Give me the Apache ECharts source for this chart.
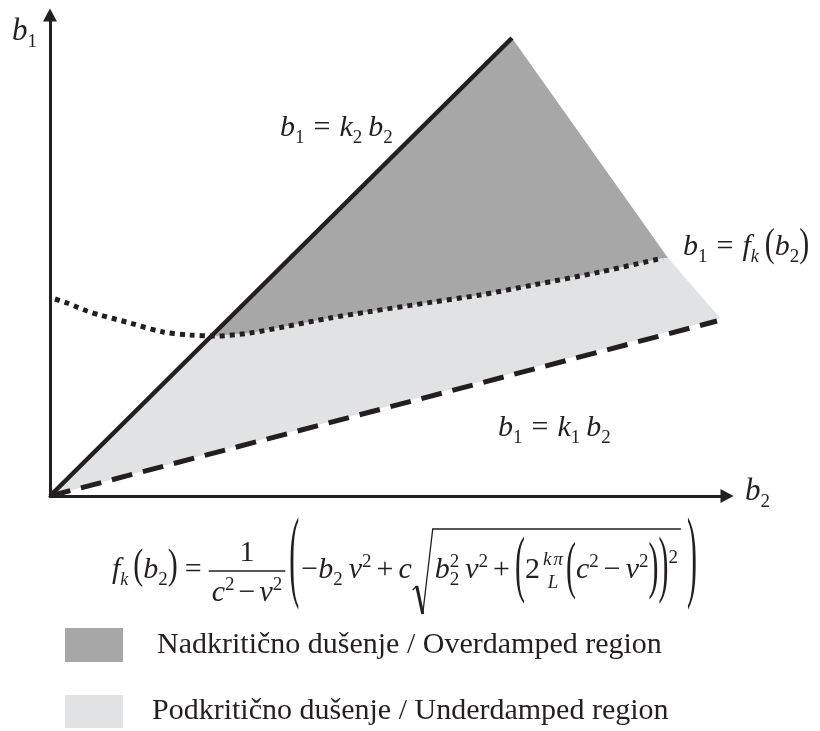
<!DOCTYPE html>
<html><head><meta charset="utf-8">
<script src="https://cdn.jsdelivr.net/npm/echarts@6/dist/echarts.min.js"></script>
<style>html,body{margin:0;padding:0;background:#fff}#c{width:820px;height:731px}</style>
</head><body><div id="c"></div>
<script>
// ---------------- data (b2 = horizontal, b1 = vertical) ----------------
const k2LineB2 = [0, 46.2];
const k2LineB1 = [0, 45.8];
const k1LineB2 = [0, 66.7];
const k1LineB1 = [0, 17.5];
const fkB2 = [0.5, 1.7, 2.7, 3.7, 5, 8, 11.3, 14, 16.5, 20, 23.3, 28, 31.7, 38.3, 43, 48.3, 55, 61.3];
const fkB1 = [19.7, 19.3, 18.9, 18.5, 18.1, 17.3, 16.4, 16.1, 16.0, 16.3, 16.9, 17.8, 18.4, 19.4, 20.1, 21.1, 22.4, 23.8];
const overB2 = [16.2, 46.2, 61.8, 61.3, 55, 48.3, 43, 38.3, 31.7, 28, 23.3, 20, 16.5];
const overB1 = [16.05, 45.8, 23.8, 23.8, 22.4, 21.1, 20.1, 19.4, 18.4, 17.8, 16.9, 16.3, 16.0];
const underB2 = [0, 16.2, 16.5, 20, 23.3, 28, 31.7, 38.3, 43, 48.3, 55, 61.3, 61.8, 67.0];
const underB1 = [0, 16.05, 16.0, 16.3, 16.9, 17.8, 18.4, 19.4, 20.1, 21.1, 22.4, 23.8, 23.8, 17.8];
const legendLabels = ['Nadkritično dušenje / Overdamped region', 'Podkritično dušenje / Underdamped region'];
const regionColors = ['#a7a7a7', '#e1e2e4'];

// ---------------- text layout helpers ----------------
const FF = '"Liberation Serif","Times New Roman",Times,serif';
const INK = '#231f20';
const mctx = document.createElement('canvas').getContext('2d');
function measure(t, fs, it) { mctx.font = (it ? 'italic ' : '') + fs + 'px ' + FF; return mctx.measureText(t).width; }
const G = [];
function put(x, base, t, fs, it) {
  G.push({type: 'text', x: x, y: base - 0.3375 * fs, silent: true, z: 100,
    style: {text: t, fontSize: fs, fontFamily: FF, fontStyle: it ? 'italic' : 'normal', fill: INK, align: 'left', verticalAlign: 'middle'}});
}
function putParen(x, base, t, fs, sy, c) {
  G.push({type: 'text', x: x, y: base - c - 0.0975 * fs * sy, scaleY: sy, silent: true, z: 100,
    style: {text: t, fontSize: fs, fontFamily: FF, fill: INK, align: 'left', verticalAlign: 'middle'}});
}
function I(t, fs) { return {t: t, i: 1, fs: fs || 30}; }
function R(t, fs) { return {t: t, fs: fs || 30}; }
function SB(t, fs, dy, it) { return {t: t, fs: fs || 19, dy: dy || 6, i: it}; }
function SP(t, fs, up) { return {t: t, fs: fs || 19, dy: -(up || 12)}; }
function PR(t, sy, c, fs) { return {t: t, fs: fs || 30, sy: sy, c: c}; }
function seq(x, base, items, dry) {
  for (const it of items) {
    if (typeof it === 'number') { x += it; continue; }
    const fs = it.fs || 30;
    if (it.stack) {
      const w1 = measure(it.stack[0], fs, false), w2 = measure(it.stack[1], fs, false);
      if (!dry) { put(x, base - it.up, it.stack[0], fs, false); put(x, base + it.dn, it.stack[1], fs, false); }
      x += Math.max(w1, w2); continue;
    }
    if (it.frac) {
      const wn = seq(0, 0, it.frac[0], true), wd = seq(0, 0, it.frac[1], true), w = Math.max(wn, wd);
      if (!dry) { seq(x + (w - wn) / 2, base - it.up, it.frac[0]); seq(x + (w - wd) / 2, base + it.dn, it.frac[1]); }
      x += w; continue;
    }
    const w = measure(it.t, fs, it.i);
    if (!dry) {
      if (it.sy) putParen(x, base, it.t, fs, it.sy, it.c);
      else put(x, base + (it.dy || 0), it.t, fs, it.i);
    }
    x += w;
  }
  return x;
}
function lineEl(pts, w) {
  G.push({type: 'polyline', silent: true, z: 100, shape: {points: pts}, style: {stroke: INK, lineWidth: w, fill: null, lineJoin: 'miter'}});
}

// axis labels and curve labels
seq(12, 42, [I('b', 31), SB('1', 19, 6)]);
seq(745, 502, [I('b', 31), SB('2', 19, 6)]);
seq(280, 138, [I('b'), SB('1'), 9, R('='), 9, I('k'), SB('2'), 6, I('b'), SB('2')]);
seq(683, 257, [I('b'), SB('1'), 9, R('='), 9, I('f'), SB('k', 18, 6, 1), 6, PR('(', 1.3, 7.5), I('b'), SB('2'), PR(')', 1.3, 7.5)]);
seq(498, 438, [I('b'), SB('1'), 9, R('='), 9, I('k'), SB('1'), 6, I('b'), SB('2')]);

// formula f_k(b2)
(function () {
  const base = 580, axisY = 571;
  let x = seq(112, base, [I('f'), SB('k', 18, 6, 1), 5, PR('(', 1.4, 9), I('b'), SB('2'), PR(')', 1.4, 9), 7, R('='), 7]);
  const den = [I('c'), SP('2'), 4, R('−'), 4, I('v'), SP('2')];
  const dw = seq(0, 0, den, true), barW = dw + 6;
  seq(x + 3, 603, den);
  put(x + barW / 2 - measure('1', 30) / 2, 563, '1', 30, false);
  lineEl([[x, axisY], [x + barW, axisY]], 1.5);
  x += barW + 4;
  x = seq(x, base, [PR('(', 3.4, 9), 2, R('−'), I('b'), SB('2'), 6, I('v'), SP('2'), 5, R('+'), 5, I('c')]);
  const xs = x + 1;
  x = xs + 22;
  x = seq(x, base, [I('b'), {stack: ['2', '2'], fs: 19, up: 12, dn: 6}, 6, I('v'), SP('2'), 5, R('+'), 5,
    PR('(', 2.5, 4), R('2'), 3, {frac: [[I('k', 19), 2, I('π', 19)], [I('L', 19)]], up: 14, dn: 9}, 3,
    PR('(', 2.1, 4), I('c'), SP('2'), 5, R('−'), 5, I('v'), SP('2'), PR(')', 2.1, 4), PR(')', 2.5, 4), SP('2', 19, 16)]);
  const xe = x + 3;
  lineEl([[xs, 590], [xs + 4, 586]], 1.3);
  lineEl([[xs + 4, 586], [xs + 10, 614]], 3);
  lineEl([[xs + 10, 614], [xs + 20, 529], [xe, 529]], 1.3);
  seq(xe + 6, base, [PR(')', 3.4, 9)]);
})();

// legend
G.push({type: 'rect', silent: true, shape: {x: 65, y: 628, width: 58, height: 34}, style: {fill: regionColors[0]}});
G.push({type: 'rect', silent: true, shape: {x: 65, y: 695, width: 58, height: 33}, style: {fill: regionColors[1]}});
put(157, 655, legendLabels[0], 30, false);
put(152, 721, legendLabels[1], 30, false);

// ---------------- chart ----------------
function polySeries(xs, ys, color) {
  return {
    type: 'custom', coordinateSystem: 'cartesian2d', silent: true, z: 1, clip: false,
    data: xs.map((x, i) => [x, ys[i]]),
    renderItem: function (params, api) {
      if (params.dataIndex !== 0) return null;
      const pts = xs.map((x, i) => api.coord([x, ys[i]]));
      return {type: 'polygon', shape: {points: pts}, style: {fill: color}};
    }
  };
}
function lineSeries(xs, ys, lw, dash, smooth) {
  return {
    type: 'line', silent: true, z: 3, showSymbol: false, symbol: 'none', smooth: smooth || false,
    data: xs.map((x, i) => [x, ys[i]]),
    lineStyle: {color: INK, width: lw, type: dash, cap: 'butt'}
  };
}
const axisCommon = {
  type: 'value', min: 0,
  axisLine: {show: true, onZero: true, symbol: ['none', 'triangle'], symbolSize: [14, 13], lineStyle: {color: INK, width: 3}},
  axisTick: {show: false}, axisLabel: {show: false}, splitLine: {show: false}
};
const chart = echarts.init(document.getElementById('c'), null, {renderer: 'canvas'});
chart.setOption({
  animation: false,
  backgroundColor: '#ffffff',
  grid: {left: 50, right: 93, top: 15, bottom: 235},
  xAxis: Object.assign({}, axisCommon, {max: 67.7}),
  yAxis: Object.assign({}, axisCommon, {max: 48.1}),
  series: [
    polySeries(underB2, underB1, regionColors[1]),
    polySeries(overB2, overB1, regionColors[0]),
    lineSeries(k1LineB2, k1LineB1, 5, [21, 11]),
    lineSeries(fkB2, fkB1, 5, [5, 5], 0.3),
    lineSeries(k2LineB2, k2LineB1, 4.5, 'solid')
  ],
  graphic: G
});
</script></body></html>
